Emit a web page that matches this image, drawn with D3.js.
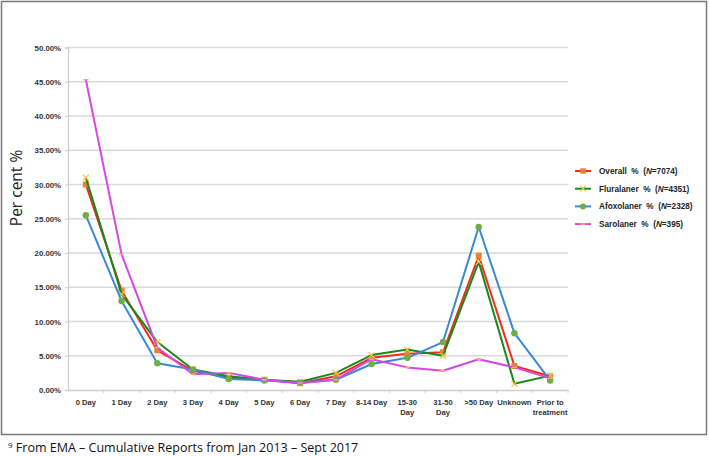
<!DOCTYPE html>
<html>
<head>
<meta charset="utf-8">
<script src="https://cdn.jsdelivr.net/npm/d3@7"></script>
<style>
  body { margin: 0; background: #fff; }
  svg { display: block; }
</style>
</head>
<body>
<svg id="chart" width="709" height="456"></svg>
<script>
// categories on the x axis (multi-line labels split with \n)
var days = ["0 Day", "1 Day", "2 Day", "3 Day", "4 Day", "5 Day", "6 Day", "7 Day",
            "8-14 Day", "15-30\nDay", "31-50\nDay", ">50 Day", "Unknown", "Prior to\ntreatment"];

// per cent values
var overall    = [30.0, 14.5, 5.8, 2.8, 1.8, 1.5, 1.0, 2.0, 4.7, 5.3, 5.5, 19.6, 3.5, 2.0];
var fluralaner = [31.0, 14.0, 7.0, 3.0, 2.0, 1.5, 1.2, 2.5, 5.1, 5.9, 5.0, 18.7, 0.9, 2.1];
var afoxolaner = [25.5, 13.0, 3.9, 3.0, 1.6, 1.4, 1.1, 1.5, 3.8, 4.7, 7.0, 23.8, 8.3, 1.4];
var sarolaner  = [45.3, 19.8, 6.2, 2.3, 2.5, 1.5, 1.0, 1.5, 4.5, 3.3, 2.8, 4.5, 3.3, 1.7];

var yTicks = [0, 5, 10, 15, 20, 25, 30, 35, 40, 45, 50];

var seriesNames = ["Overall", "Fluralaner", "Afoxolaner", "Sarolaner"];
var seriesN     = ["7074", "4351", "2328", "395"];

var series = [
  {name: seriesNames[0], n: seriesN[0], values: overall,    line: "#f42a1c", mark: "square", markColor: "#ea8236"},
  {name: seriesNames[1], n: seriesN[1], values: fluralaner, line: "#168a1c", mark: "cross",  markColor: "#f4c542"},
  {name: seriesNames[2], n: seriesN[2], values: afoxolaner, line: "#3a89d4", mark: "circle", markColor: "#6fae45"},
  {name: seriesNames[3], n: seriesN[3], values: sarolaner,  line: "#d24ae0", mark: "dash",   markColor: "#f0b070"}
];

var svg = d3.select("#chart");
var tickFont = "'Liberation Sans', Arial, sans-serif";

// outer frame
svg.append("rect")
  .attr("x", 1.5).attr("y", 1.5)
  .attr("width", 705).attr("height", 433)
  .attr("fill", "#fff")
  .attr("stroke", "#7a7a7a")
  .attr("stroke-width", 1.5);

var plot = {left: 68, right: 568, top: 47.5, bottom: 390};

var x = d3.scaleBand().domain(days).range([plot.left, plot.right]);
var y = d3.scaleLinear().domain([0, 50]).range([plot.bottom, plot.top]);

// grid lines
svg.append("g").selectAll("line")
  .data(yTicks.filter(function(d){ return d > 0; }))
  .enter().append("line")
  .attr("x1", plot.left).attr("x2", plot.right)
  .attr("y1", function(d){ return y(d); })
  .attr("y2", function(d){ return y(d); })
  .attr("stroke", "#d9d9d9")
  .attr("stroke-width", 1.3);

// y axis
var yAxis = svg.append("g")
  .attr("transform", "translate(" + plot.left + ",0)")
  .call(d3.axisLeft(y).tickValues(yTicks).tickSize(3).tickPadding(4)
        .tickFormat(function(d){ return d.toFixed(2) + "%"; }));
yAxis.select(".domain").attr("stroke", "#cfcfcf").attr("stroke-width", 1.3);
yAxis.selectAll(".tick line").attr("stroke", "#cfcfcf");
yAxis.selectAll("text")
  .attr("font-family", tickFont).attr("font-size", "7.8px")
  .attr("font-weight", "bold").attr("fill", "#333");

// x axis
var xAxis = svg.append("g")
  .attr("transform", "translate(0," + plot.bottom + ")")
  .call(d3.axisBottom(x).tickSize(0).tickFormat(""));
xAxis.select(".domain").attr("stroke", "#cfcfcf").attr("stroke-width", 1.3);

// x ticks at band boundaries
svg.append("g").selectAll("line")
  .data(days)
  .enter().append("line")
  .attr("x1", function(d){ return x(d) + x.bandwidth(); })
  .attr("x2", function(d){ return x(d) + x.bandwidth(); })
  .attr("y1", plot.bottom).attr("y2", plot.bottom + 3)
  .attr("stroke", "#cfcfcf");

var xl = svg.append("g").selectAll("text")
  .data(days)
  .enter().append("text")
  .attr("x", function(d){ return x(d) + x.bandwidth() / 2; })
  .attr("y", plot.bottom + 15)
  .attr("text-anchor", "middle")
  .attr("font-family", tickFont).attr("font-size", "7.6px")
  .attr("font-weight", "bold").attr("fill", "#333");
xl.each(function(d){
  var t = d3.select(this);
  d.split("\n").forEach(function(part, i){
    t.append("tspan")
      .attr("x", x(d) + x.bandwidth() / 2)
      .attr("dy", i === 0 ? 0 : 10)
      .text(part);
  });
});

// y axis title
svg.append("text")
  .attr("transform", "translate(22,188) rotate(-90)")
  .attr("text-anchor", "middle")
  .attr("font-family", "'Open Sans', 'DejaVu Sans', sans-serif")
  .attr("font-size", "15.5px")
  .attr("fill", "#222")
  .text("Per cent %");

var line = d3.line()
  .x(function(d, i){ return x(days[i]) + x.bandwidth() / 2; })
  .y(function(d){ return y(d); });

function drawMarker(g, kind, color, cx, cy, size) {
  if (kind === "square") {
    g.append("rect").attr("x", cx - size/2).attr("y", cy - size/2)
      .attr("width", size).attr("height", size).attr("fill", color);
  } else if (kind === "circle") {
    g.append("circle").attr("cx", cx).attr("cy", cy).attr("r", size/2).attr("fill", color);
  } else if (kind === "cross") {
    var h = size / 2;
    g.append("path")
      .attr("d", "M" + (cx-h) + "," + (cy-h) + "L" + (cx+h) + "," + (cy+h) +
                 "M" + (cx-h) + "," + (cy+h) + "L" + (cx+h) + "," + (cy-h))
      .attr("stroke", color).attr("stroke-width", 1.2).attr("fill", "none");
  } else {
    g.append("line").attr("x1", cx - 2.5).attr("x2", cx + 2.5)
      .attr("y1", cy).attr("y2", cy)
      .attr("stroke", color).attr("stroke-width", 1.5);
  }
}

series.forEach(function(s){
  var g = svg.append("g");
  g.append("path")
    .datum(s.values)
    .attr("d", line)
    .attr("fill", "none")
    .attr("stroke", s.line)
    .attr("stroke-width", 2)
    .attr("stroke-linejoin", "round");
  s.values.forEach(function(v, i){
    drawMarker(g, s.mark, s.markColor, x(days[i]) + x.bandwidth() / 2, y(v),
               s.mark === "circle" ? 6.5 : 6);
  });
});

// legend
var legend = svg.append("g").attr("transform", "translate(575,171)");
series.forEach(function(s, i){
  var row = legend.append("g").attr("transform", "translate(0," + (i * 17.7) + ")");
  row.append("line").attr("x1", 0).attr("x2", 16).attr("y1", 0).attr("y2", 0)
    .attr("stroke", s.line).attr("stroke-width", 2);
  drawMarker(row, s.mark, s.markColor, 8, 0, s.mark === "circle" ? 6 : 5.5);
  var t = row.append("text")
    .attr("x", 24).attr("y", 3)
    .attr("font-family", tickFont).attr("font-size", "8.2px")
    .attr("font-weight", "bold").attr("fill", "#222")
    .attr("xml:space", "preserve");
  t.append("tspan").text(s.name + "  %  (");
  t.append("tspan").attr("font-style", "italic").text("N");
  t.append("tspan").text("=" + s.n + ")");
});

// footnote
var foot = svg.append("text")
  .attr("x", 8).attr("y", 452)
  .attr("font-family", "'Open Sans', 'DejaVu Sans', sans-serif")
  .attr("font-size", "12.5px")
  .attr("fill", "#111");
foot.append("tspan").attr("font-size", "8px").attr("dy", -4).text("9");
foot.append("tspan").attr("dy", 4).text(" From EMA \u2013 Cumulative Reports from Jan 2013 \u2013 Sept 2017");
</script>
</body>
</html>
